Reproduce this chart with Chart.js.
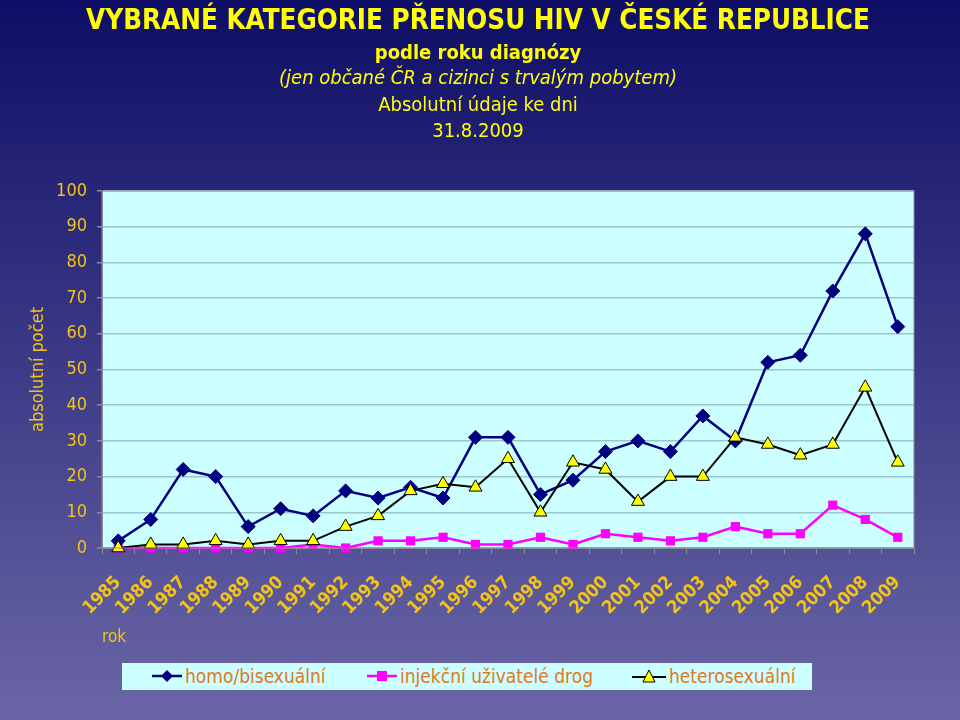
<!DOCTYPE html>
<html>
<head>
<meta charset="utf-8">
<script src="https://cdn.jsdelivr.net/npm/chart.js@4.4.0/dist/chart.umd.min.js"></script>
<style>
    body { margin: 0; background: #fff; }
    #wrap {
        position: relative;
        width: 960px;
        height: 720px;
        background: linear-gradient(#0e0e66, #6a66a6);
        font-family: "DejaVu Sans Condensed", "DejaVu Sans", sans-serif;
        overflow: hidden;
    }
    #chart { position: absolute; left: 0; top: 0; }
    .t { position: absolute; left: 0; width: 956px; text-align: center; color: #ffff00; white-space: nowrap; }
    #t1 { top: 3px; font-size: 27.5px; font-weight: bold; }
    #t2 { top: 40px; font-size: 20px; font-weight: bold; }
    #t3 { top: 65px; font-size: 20px; font-style: italic; }
    #t4 { top: 92px; font-size: 20px; }
    #t5 { top: 118px; font-size: 20px; }
    #legend {
        position: absolute; left: 122px; top: 663px; width: 690px; height: 27px;
        background: #ccffff; color: #e07820; font-size: 19px;
    }
    .item { position: absolute; top: 1px; line-height: 25px; }
    .item svg { vertical-align: middle; margin-right: 3px; margin-top: -3px; }
</style>
</head>
<body>
<div id="wrap">
    <canvas id="chart" width="960" height="720"></canvas>
    <div class="t" id="t1">VYBRANÉ KATEGORIE PŘENOSU HIV V ČESKÉ REPUBLICE</div>
    <div class="t" id="t2">podle roku diagnózy</div>
    <div class="t" id="t3">(jen občané ČR a cizinci s trvalým pobytem)</div>
    <div class="t" id="t4">Absolutní údaje ke dni</div>
    <div class="t" id="t5">31.8.2009</div>
    <div id="legend">
        <span class="item" style="left:30px">
            <svg width="30" height="16"><line x1="0" y1="8" x2="30" y2="8" stroke="#000080" stroke-width="2.5"/><polygon points="15,2 21,8 15,14 9,8" fill="#000080"/></svg>homo/bisexuální
        </span>
        <span class="item" style="left:245px">
            <svg width="30" height="16"><line x1="0" y1="8" x2="30" y2="8" stroke="#ff00ff" stroke-width="2.5"/><rect x="10" y="3" width="10" height="10" fill="#ff00ff"/></svg>injekční uživatelé drog
        </span>
        <span class="item" style="left:510px">
            <svg width="34" height="16"><line x1="0" y1="9" x2="34" y2="9" stroke="#000" stroke-width="2"/><polygon points="17,2 23,14 11,14" fill="#ffff00" stroke="#000" stroke-width="1"/></svg>heterosexuální
        </span>
    </div>
</div>
<script>
// roky diagnózy
const years = ['1985', '1986', '1987', '1988', '1989', '1990', '1991', '1992', '1993', '1994',
    '1995', '1996', '1997', '1998', '1999', '2000', '2001', '2002', '2003', '2004',
    '2005', '2006', '2007', '2008', '2009'];

// absolutní počty podle kategorie přenosu
const homoBi = [2, 8, 22, 20, 6, 11, 9, 16, 14, 17, 14, 31, 31, 15, 19, 27, 30, 27, 37, 30, 52, 54, 72, 88, 62];
const drugUsers = [0, 0, 0, 0, 0, 0, 1, 0, 2, 2, 3, 1, 1, 3, 1, 4, 3, 2, 3, 6, 4, 4, 12, 8, 3];
const hetero = [0, 1, 1, 2, 1, 2, 2, 6, 9, 16, 18, 17, 25, 10, 24, 22, 13, 20, 20, 31, 29, 26, 29, 45, 24];

const gold = '#f2c418';

// pozadí oblasti grafu
const plotBackground = {
    id: 'plotBackground',
    beforeDraw(chart) {
        const { ctx, chartArea: a } = chart;
        ctx.save();
        ctx.fillStyle = '#ccffff';
        ctx.fillRect(a.left, a.top, a.right - a.left, a.bottom - a.top);
        ctx.restore();
    },
    afterDatasetsDraw(chart) {
        const { ctx, chartArea: a } = chart;
        ctx.save();
        ctx.strokeStyle = '#8a8a9a';
        ctx.lineWidth = 1;
        ctx.strokeRect(a.left, a.top, a.right - a.left, a.bottom - a.top);
        ctx.restore();
    }
};

new Chart(document.getElementById('chart'), {
    type: 'line',
    data: {
        labels: years,
        datasets: [
            {
                label: 'homo/bisexuální',
                data: homoBi,
                borderColor: '#000080',
                backgroundColor: '#000080',
                borderWidth: 2.5,
                pointStyle: 'rectRot',
                pointRadius: 7,
                pointBorderWidth: 1,
                order: 2
            },
            {
                label: 'injekční uživatelé drog',
                data: drugUsers,
                borderColor: '#ff00ff',
                backgroundColor: '#ff00ff',
                borderWidth: 2.5,
                pointStyle: 'rect',
                pointRadius: 6.5,
                pointBorderWidth: 0,
                order: 3
            },
            {
                label: 'heterosexuální',
                data: hetero,
                borderColor: '#000000',
                backgroundColor: '#ffff00',
                borderWidth: 2,
                pointStyle: 'triangle',
                pointRadius: 7.5,
                pointBorderColor: '#000000',
                pointBorderWidth: 1,
                order: 1
            }
        ]
    },
    options: {
        responsive: false,
        animation: false,
        clip: false,
        layout: {
            padding: { left: 28, right: 46, top: 191, bottom: 72 }
        },
        plugins: {
            legend: { display: false },
            tooltip: { enabled: false }
        },
        scales: {
            x: {
                offset: true,
                grid: {
                    offset: true,
                    drawOnChartArea: false,
                    tickLength: 6,
                    tickColor: '#8a8a9a'
                },
                border: { color: '#8a8a9a' },
                ticks: {
                    color: gold,
                    autoSkip: false,
                    minRotation: 45,
                    maxRotation: 45,
                    padding: 18,
                    font: { family: 'DejaVu Sans Condensed', size: 18, weight: 'bold' }
                },
                title: {
                    display: true,
                    text: 'rok',
                    align: 'start',
                    color: gold,
                    padding: 0,
                    font: { family: 'DejaVu Sans Condensed', size: 17 }
                },
                afterFit(scale) { scale.height = 100; }
            },
            y: {
                min: 0,
                max: 100,
                ticks: {
                    stepSize: 10,
                    color: gold,
                    padding: 10,
                    font: { family: 'DejaVu Sans Condensed', size: 18 }
                },
                grid: {
                    color: '#9cc6cc',
                    lineWidth: 1.5,
                    tickLength: 5,
                    tickColor: '#8a8a9a'
                },
                border: { color: '#8a8a9a' },
                title: {
                    display: true,
                    text: 'absolutní počet',
                    color: gold,
                    padding: 0,
                    font: { family: 'DejaVu Sans Condensed', size: 18 }
                },
                afterFit(scale) { scale.width = 74; }
            }
        }
    },
    plugins: [plotBackground]
});
</script>
</body>
</html>
